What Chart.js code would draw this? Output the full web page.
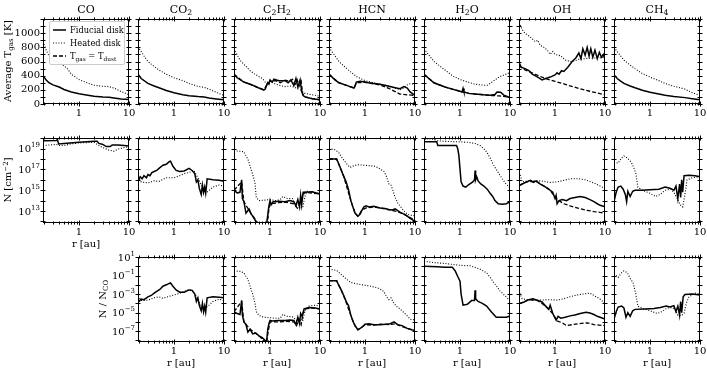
<!DOCTYPE html>
<html>
<head>
<meta charset="utf-8">
<script src="https://cdn.jsdelivr.net/npm/chart.js@4.4.1/dist/chart.umd.min.js"></script>
<style>
body { margin: 0; background: #fff; width: 707px; height: 375px; position: relative; overflow: hidden;
       font-family: "DejaVu Serif", serif; color: #000; }
canvas { position: absolute; }
.txt { position: absolute; font-size: 10px; white-space: nowrap; line-height: 1; transform: translate(-50%, -50%); }
.title { font-size: 11px; }
.rot { transform: translate(-50%, -50%) rotate(-90deg); }
sub { font-size: 70%; vertical-align: -0.3em; line-height: 0; }
sup { font-size: 70%; vertical-align: 0.5em; line-height: 0; }
#legend { position: absolute; left: 49px; top: 21px; width: 74px; height: 42px; border: 1px solid #ccc;
          border-radius: 2px; background: rgba(255,255,255,0.85); font-size: 8.3px; }
#legend .row { position: absolute; left: 3px; height: 10px; display: flex; align-items: center; }
#legend svg { margin-right: 4px; }
</style>
</head>
<body>
<script>
// species (columns) and titles
const species = ['CO', 'CO2', 'C2H2', 'HCN', 'H2O', 'OH', 'CH4'];
const titles = ['CO', 'CO<sub>2</sub>', 'C<sub>2</sub>H<sub>2</sub>', 'HCN', 'H<sub>2</sub>O', 'OH', 'CH<sub>4</sub>'];

// x ticks (r in au)
const rTicks = [0.2, 0.3, 0.4, 0.5, 0.6, 0.7, 0.8, 0.9, 1, 2, 3, 4, 5, 6, 7, 8, 9, 10];
const tTicks = [0, 100, 200, 300, 400, 500, 600, 700, 800, 900, 1000, 1100, 1200];
const nTicks = [12, 13, 14, 15, 16, 17, 18, 19, 20];     // log10 N
const ratioTicks = [-8, -7, -6, -5, -4, -3, -2, -1, 0, 1]; // log10 N/N_CO

// ---- row 1: average T_gas [K], pairs of [r, T]
const tCO_fid = [[0.19,400],[0.22,340],[0.25,300],[0.3,270],[0.4,240],[0.5,205],[0.7,170],[1,145],[1.5,125],[2,110],[3,100],[4,95],[5,85],[7,72],[10,65]];
const tCO_hot = [[0.19,880],[0.22,760],[0.25,680],[0.3,620],[0.4,580],[0.5,540],[0.6,490],[0.7,420],[1,345],[1.5,295],[2,265],[3,250],[4,245],[5,225],[7,175],[10,130]];
const tCO2_fid = [[0.19,420],[0.22,360],[0.3,290],[0.4,255],[0.5,230],[0.7,190],[1,160],[1.5,130],[2,115],[3,105],[4,100],[5,85],[7,72],[10,60]];
const tCO2_hot = [[0.19,810],[0.22,740],[0.25,680],[0.3,600],[0.4,530],[0.5,480],[0.7,420],[1,370],[1.5,330],[2,290],[3,250],[4,235],[5,210],[7,165],[10,120]];
const tC2H2_fid = [[0.19,420],[0.22,370],[0.3,310],[0.4,280],[0.5,250],[0.6,225],[0.75,200],[0.8,210],[0.85,260],[0.9,300],[0.95,280],[1.0,340],[1.1,310],[1.2,350],[1.5,330],[2,330],[2.3,300],[2.6,340],[3,260],[3.3,360],[3.6,240],[4,340],[4.3,180],[4.6,120],[5,100],[7,75],[10,60]];
const tC2H2_hot = [[0.19,780],[0.25,620],[0.3,560],[0.4,470],[0.5,420],[0.7,360],[0.8,310],[0.9,270],[1,320],[1.2,290],[1.5,265],[2,245],[2.5,255],[3,240],[4,200],[4.5,175],[5,150],[7,130],[10,110]];
const tC2H2_dust = [[0.19,420],[0.3,310],[0.5,250],[0.75,200],[0.9,290],[1.0,320],[1.3,330],[1.6,300],[2,335],[2.5,320],[2.8,350],[3.2,280],[3.5,340],[3.8,250],[4.2,320],[4.5,140],[5,100],[7,75],[10,60]];
const tHCN_fid = [[0.19,420],[0.25,340],[0.3,300],[0.4,270],[0.5,245],[0.6,225],[0.63,250],[0.67,310],[0.8,320],[1,310],[1.2,300],[1.5,290],[2,280],[3,250],[4,230],[5,215],[6,245],[7,225],[8,170],[10,120]];
const tHCN_hot = [[0.19,800],[0.25,680],[0.3,600],[0.4,520],[0.5,460],[0.7,380],[1,330],[1.5,300],[2,280],[3,255],[4,225],[5,200],[6,230],[7,270],[8,285],[10,280]];
const tHCN_dust = [[0.19,420],[0.3,300],[0.5,245],[0.6,225],[0.67,300],[1,305],[1.5,285],[2,270],[3,220],[4,175],[5,140],[7,130],[10,120]];
const tH2O_fid = [[0.19,420],[0.3,300],[0.5,240],[0.7,210],[1,180],[1.1,170],[1.15,220],[1.2,170],[1.5,150],[2,140],[3,130],[4,125],[5,135],[5.5,170],[6.5,165],[7.5,125],[10,90]];
const tH2O_hot = [[0.19,780],[0.3,600],[0.5,480],[0.7,400],[1,345],[1.5,305],[2,280],[3,265],[3.5,265],[4,290],[5,340],[6,380],[7,400],[8,415],[10,445]];
const tH2O_dust = [[0.19,420],[0.3,300],[0.5,240],[0.7,210],[1,180],[1.5,150],[2,140],[3,130],[4,120],[6,115],[8,105],[10,90]];
const tOH_fid = [[0.19,590],[0.21,520],[0.25,500],[0.3,470],[0.35,420],[0.45,380],[0.55,340],[0.65,360],[0.8,380],[1,410],[1.1,440],[1.2,420],[1.35,470],[1.5,460],[1.8,520],[2.2,600],[2.6,650],[3,720],[3.3,640],[3.6,780],[4,690],[4.4,800],[4.8,680],[5.2,780],[5.7,660],[6.3,760],[7,640],[7.7,730],[8.5,660],[9.3,700],[10,630]];
const tOH_hot = [[0.19,1150],[0.22,1050],[0.25,1000],[0.3,960],[0.35,920],[0.4,880],[0.45,900],[0.5,830],[0.6,800],[0.7,760],[0.8,700],[0.9,740],[1,700],[1.3,680],[1.6,620],[2,600],[2.5,610],[3,630],[4,640],[5,650],[7,650],[10,660]];
const tOH_dust = [[0.19,540],[0.25,480],[0.3,460],[0.4,420],[0.5,390],[0.7,350],[1,320],[1.5,285],[2,255],[3,220],[5,180],[7,155],[10,130]];
const tCH4_fid = [[0.19,415],[0.22,360],[0.25,330],[0.3,290],[0.4,255],[0.5,230],[0.7,195],[1,165],[1.5,140],[2,122],[3,105],[5,90],[7,75],[10,60]];
const tCH4_hot = [[0.19,800],[0.22,740],[0.25,690],[0.3,620],[0.4,550],[0.5,500],[0.7,430],[1,380],[1.5,330],[2,290],[3,250],[4,230],[5,210],[7,160],[10,120]];

// ---- row 2: column density, pairs of [r, log10 N]
const nCO_fid = [[0.19,19.75],[0.35,19.78],[0.37,19.85],[0.39,19.45],[0.5,19.5],[1,19.6],[2,19.7],[2.3,19.7],[2.5,19.5],[3,19.4],[3.5,19.2],[4.2,19.2],[4.6,19.35],[6,19.35],[8,19.3],[10,19.25]];
const nCO_hot = [[0.19,19.3],[0.35,19.4],[0.4,19.3],[0.5,19.3],[0.7,19.45],[1,19.55],[2,19.6],[2.5,19.3],[3,19.1],[4,18.85],[5,18.75],[6,18.95],[8,19.1],[10,19.2]];
const nCO2_fid = [[0.19,15.9],[0.21,16.3],[0.23,16.1],[0.25,16.4],[0.28,16.2],[0.3,16.5],[0.33,16.4],[0.36,16.7],[0.4,16.8],[0.45,16.9],[0.5,17.1],[0.6,17.4],[0.7,17.5],[0.8,17.75],[0.85,17.8],[0.95,17.3],[1.1,16.9],[1.3,16.8],[1.6,16.85],[2.0,17.1],[2.3,16.9],[2.6,16.6],[2.8,15.8],[3.0,16.0],[3.2,15.2],[3.5,14.6],[3.7,15.5],[3.9,14.8],[4.1,15.3],[4.3,14.7],[4.6,16.1],[6,16.0],[8,15.95],[10,15.85]];
const nCO2_hot = [[0.19,16.3],[0.22,15.8],[0.3,15.7],[0.4,15.9],[0.5,15.85],[0.7,16.2],[1,16.2],[1.3,16.4],[1.6,16.6],[2,16.7],[2.5,16.9],[2.7,16.6],[3,16.2],[3.5,15.5],[4,15.0],[4.3,14.7],[4.8,14.9],[6,15.3],[8,15.5],[10,15.4]];
const nC2H2_fid = [[0.19,15.0],[0.22,14.75],[0.25,14.8],[0.27,16.0],[0.28,14.2],[0.3,13.9],[0.33,12.8],[0.38,13.2],[0.42,12.7],[0.47,12.4],[0.52,12.0],[0.6,11.7],[0.7,11.6],[0.85,11.7],[0.9,12.6],[0.95,13.5],[1.0,14.0],[1.05,13.6],[1.15,13.9],[1.5,13.95],[2,13.9],[2.5,14.0],[3,13.9],[3.3,13.5],[3.6,14.1],[3.9,13.4],[4.1,14.5],[4.3,13.6],[4.6,14.8],[5,14.8],[7,14.85],[10,14.6]];
const nC2H2_hot = [[0.19,18.8],[0.25,18.75],[0.3,18.7],[0.33,18.3],[0.36,18.0],[0.4,17.3],[0.45,16.5],[0.5,15.7],[0.53,14.3],[0.6,14.0],[0.8,14.05],[1.0,14.1],[1.3,14.0],[1.6,14.1],[1.8,14.4],[2.2,14.2],[2.8,14.2],[3.2,13.6],[3.6,13.2],[4.0,13.4],[4.5,13.3],[5.0,14.4],[5.5,14.9],[7,14.85],[10,14.7]];
const nC2H2_dust = [[0.19,15.0],[0.27,15.8],[0.3,13.9],[0.42,12.7],[0.6,11.7],[0.88,11.7],[0.95,13.2],[1.0,13.7],[1.5,13.8],[2,13.85],[3,13.7],[3.5,13.3],[4,13.8],[4.5,14.5],[5,14.8],[10,14.65]];
const nHCN_fid = [[0.19,18.0],[0.27,18.0],[0.3,17.5],[0.33,17.0],[0.37,16.4],[0.42,15.8],[0.47,15.0],[0.52,14.0],[0.57,13.4],[0.63,12.8],[0.72,12.5],[0.8,12.7],[0.87,13.1],[0.95,13.4],[1.05,13.5],[1.2,13.4],[1.5,13.45],[2,13.3],[2.5,13.25],[3,13.15],[3.5,13.1],[4,13.2],[5,12.9],[6,12.7],[7,12.5],[8,12.3],[10,12.0]];
const nHCN_hot = [[0.19,19.0],[0.25,18.9],[0.3,18.6],[0.35,18.1],[0.42,17.6],[0.5,17.2],[0.6,17.35],[0.7,17.45],[1.0,17.4],[1.3,17.35],[1.6,17.3],[2.0,17.05],[2.4,16.8],[2.7,16.3],[3.0,15.6],[3.3,15.5],[3.6,15.0],[4.0,14.3],[4.5,13.8],[5,13.5],[6,13.0],[7,12.7],[8,12.6],[10,12.55]];
const nHCN_dust = [[0.19,18.0],[0.27,18.0],[0.37,16.4],[0.52,14.0],[0.63,12.8],[0.72,12.5],[0.87,13.1],[1.05,13.3],[1.5,13.4],[2.5,13.2],[4,13.0],[6,12.7],[10,12.1]];
const nH2O_fid = [[0.19,19.65],[0.34,19.65],[0.36,19.3],[0.85,19.3],[0.9,19.0],[0.95,18.3],[1.0,17.0],[1.05,15.8],[1.15,15.4],[1.3,15.3],[1.5,15.55],[1.8,15.8],[1.95,16.0],[2.0,16.9],[2.05,16.0],[2.15,16.3],[2.3,15.9],[2.6,15.6],[3.0,15.4],[3.5,15.1],[4.0,14.7],[4.5,14.4],[5.0,14.0],[5.8,13.7],[7,13.65],[8.5,13.7],[10,13.9]];
const nH2O_hot = [[0.19,19.95],[0.3,19.9],[0.35,19.75],[0.5,19.7],[1.0,19.65],[1.5,19.6],[2,19.5],[2.5,19.3],[3,19.0],[3.5,18.6],[4,18.1],[4.5,17.6],[5,17.2],[6,16.6],[7,16.1],[8,15.7],[10,15.2]];
const nOH_fid = [[0.19,15.45],[0.22,15.6],[0.27,15.8],[0.32,15.95],[0.37,15.75],[0.42,15.9],[0.5,15.6],[0.6,15.4],[0.7,15.2],[0.8,15.0],[0.9,14.8],[1.0,14.2],[1.05,14.5],[1.1,13.7],[1.2,14.0],[1.4,14.1],[1.7,14.0],[2.0,14.2],[2.5,14.3],[3.2,14.4],[4,14.3],[5,14.1],[6,13.9],[7,13.7],[8,13.55],[10,13.4]];
const nOH_hot = [[0.19,16.7],[0.2,16.5],[0.22,15.8],[0.3,15.9],[0.5,15.9],[0.8,15.75],[1.1,15.8],[1.5,15.95],[2,16.1],[3,16.1],[4,16.0],[6,15.7],[8,15.4],[10,15.15]];
const nOH_dust = [[0.19,15.45],[0.27,15.8],[0.42,15.85],[0.6,15.4],[0.8,15.0],[1.0,14.3],[1.2,14.0],[1.5,13.7],[2,13.5],[3,13.25],[4,13.1],[6,12.95],[10,12.8]];
const nCH4_fid = [[0.19,13.9],[0.21,14.8],[0.23,15.3],[0.26,15.4],[0.29,15.1],[0.32,14.6],[0.34,13.9],[0.36,14.9],[0.4,14.4],[0.45,14.9],[0.5,15.0],[0.7,15.0],[1.0,15.05],[1.5,15.1],[2,15.3],[2.5,15.2],[3,15.0],[3.3,15.4],[3.6,14.2],[3.9,15.6],[4.1,14.3],[4.3,16.0],[4.5,14.8],[4.8,16.4],[6,16.45],[8,16.4],[10,16.3]];
const nCH4_hot = [[0.19,17.7],[0.23,17.6],[0.27,18.1],[0.3,18.3],[0.35,18.1],[0.42,17.7],[0.47,17.2],[0.52,16.6],[0.57,15.3],[0.7,15.0],[1,14.7],[1.3,14.4],[1.6,14.6],[2,15.0],[2.6,15.1],[3.0,14.8],[3.5,14.2],[4.0,13.6],[4.5,13.4],[5.0,14.6],[5.5,16.0],[7,16.2],[10,16.3]];

// ---- row 3: abundance relative to CO, pairs of [r, log10 N/N_CO]
const rCO2_fid = [[0.19,-3.9],[0.22,-3.55],[0.25,-3.6],[0.3,-3.3],[0.35,-3.15],[0.4,-2.9],[0.45,-2.7],[0.52,-2.5],[0.6,-2.15],[0.7,-2.0],[0.8,-1.85],[0.85,-1.8],[0.95,-2.15],[1.1,-2.55],[1.3,-2.8],[1.6,-2.8],[2.0,-2.55],[2.3,-2.6],[2.6,-3.0],[2.8,-3.8],[3.0,-3.4],[3.2,-4.2],[3.5,-4.8],[3.7,-4.0],[3.9,-4.9],[4.1,-4.3],[4.3,-4.95],[4.6,-3.4],[6,-3.3],[8,-3.35],[10,-3.4]];
const rCO2_hot = [[0.19,-3.2],[0.22,-3.7],[0.3,-3.65],[0.4,-3.4],[0.5,-3.3],[0.6,-3.45],[0.8,-3.25],[1.0,-3.1],[1.4,-2.85],[2,-2.5],[2.5,-2.75],[3.0,-3.6],[3.5,-4.3],[4.0,-4.55],[4.5,-4.4],[5,-4.2],[6,-3.8],[8,-3.55],[10,-3.7]];
const rC2H2_fid = [[0.19,-4.9],[0.22,-5.1],[0.25,-5.2],[0.27,-3.7],[0.28,-5.3],[0.3,-6.0],[0.33,-6.3],[0.36,-7.1],[0.4,-6.8],[0.45,-7.3],[0.52,-7.2],[0.6,-7.5],[0.7,-7.7],[0.8,-8.0],[0.85,-8.2],[0.9,-6.8],[0.95,-6.2],[1.0,-5.85],[1.1,-5.9],[1.5,-5.85],[2,-5.85],[2.5,-5.8],[3,-5.85],[3.3,-6.3],[3.6,-5.5],[3.9,-6.2],[4.1,-5.1],[4.4,-5.4],[4.8,-4.6],[6,-4.45],[8,-4.5],[10,-4.6]];
const rC2H2_hot = [[0.19,-0.5],[0.25,-0.55],[0.3,-0.7],[0.33,-1.1],[0.36,-1.4],[0.4,-2.2],[0.45,-3.0],[0.5,-4.0],[0.53,-4.9],[0.6,-5.3],[0.75,-5.5],[1.0,-5.55],[1.3,-5.6],[1.6,-5.6],[1.8,-5.2],[2.2,-5.4],[2.8,-5.45],[3.2,-5.7],[3.6,-6.0],[4.0,-5.8],[4.5,-5.9],[5.0,-4.8],[6,-4.3],[8,-4.2],[10,-4.3]];
const rC2H2_dust = [[0.19,-4.9],[0.27,-3.8],[0.3,-6.0],[0.4,-6.8],[0.6,-7.5],[0.85,-8.3],[0.92,-7.0],[1.0,-6.0],[1.5,-6.0],[2,-5.95],[3,-6.0],[3.4,-6.4],[3.8,-5.7],[4.2,-6.3],[4.6,-5.0],[5,-4.6],[7,-4.5],[10,-4.6]];
const rHCN_fid = [[0.19,-1.55],[0.27,-1.55],[0.3,-2.1],[0.33,-2.5],[0.37,-3.1],[0.42,-3.8],[0.47,-4.3],[0.52,-5.3],[0.57,-5.9],[0.63,-6.4],[0.72,-6.85],[0.8,-6.7],[0.9,-6.5],[1.0,-6.25],[1.2,-6.2],[1.5,-6.3],[2,-6.3],[2.6,-6.25],[3.2,-6.2],[3.8,-6.0],[4.5,-6.3],[5.5,-6.4],[7,-6.7],[8.5,-6.85],[10,-6.9]];
const rHCN_hot = [[0.19,-0.3],[0.27,-0.45],[0.32,-0.8],[0.37,-1.1],[0.45,-1.5],[0.52,-1.75],[0.7,-1.9],[1.0,-2.05],[1.3,-2.15],[1.7,-2.3],[2.0,-2.45],[2.4,-2.75],[2.7,-3.3],[3.0,-3.6],[3.3,-3.4],[3.7,-3.9],[4.2,-4.3],[5,-4.6],[6,-5.0],[7,-5.35],[8,-5.7],[9,-5.8],[10,-5.7]];
const rHCN_dust = [[0.19,-1.55],[0.27,-1.55],[0.37,-3.1],[0.52,-5.3],[0.63,-6.4],[0.72,-6.85],[0.9,-6.5],[1.0,-6.3],[1.5,-6.35],[2,-6.25],[3,-6.3],[4,-6.2],[5.5,-6.5],[7,-6.7],[10,-6.95]];
const rH2O_fid = [[0.19,0.0],[0.35,-0.05],[0.5,-0.1],[0.7,-0.1],[0.8,-0.5],[0.9,-1.1],[1.0,-1.6],[1.05,-3.0],[1.15,-4.2],[1.4,-4.1],[1.7,-3.7],[1.95,-3.7],[2.0,-2.6],[2.05,-3.5],[2.3,-3.8],[2.8,-4.0],[3.4,-4.3],[4.3,-4.95],[5.3,-5.5],[7,-5.5],[8.5,-5.5],[10,-5.35]];
const rH2O_hot = [[0.19,0.55],[0.3,0.4],[0.5,0.3],[1.0,0.1],[1.6,0.05],[2.5,-0.3],[3.4,-0.7],[4,-1.2],[4.7,-1.75],[5.5,-2.2],[6.3,-2.65],[8,-3.2],[10,-3.7]];
const rOH_fid = [[0.19,-4.05],[0.24,-3.85],[0.3,-3.6],[0.36,-3.5],[0.45,-3.7],[0.55,-3.85],[0.65,-4.3],[0.75,-4.65],[0.8,-4.2],[0.9,-5.1],[1.05,-5.8],[1.15,-5.4],[1.3,-5.6],[1.6,-5.5],[2.0,-5.35],[2.5,-5.25],[3.2,-5.1],[4.2,-4.95],[5,-5.05],[6,-5.2],[7,-5.4],[8.5,-5.55],[10,-5.7]];
const rOH_hot = [[0.19,-2.6],[0.2,-3.0],[0.22,-3.5],[0.3,-3.65],[0.5,-3.65],[0.8,-3.6],[1.1,-3.65],[1.5,-3.5],[2.0,-3.3],[2.5,-3.15],[3.5,-3.0],[5,-2.9],[6,-3.15],[8,-3.55],[10,-4.05]];
const rOH_dust = [[0.19,-4.05],[0.3,-3.6],[0.45,-3.7],[0.65,-4.3],[0.9,-5.1],[1.1,-5.9],[1.4,-6.1],[1.7,-6.4],[2.2,-6.3],[3,-6.2],[4.4,-6.1],[6,-6.3],[10,-6.4]];
const rCH4_fid = [[0.19,-5.7],[0.21,-4.9],[0.23,-4.4],[0.27,-4.3],[0.3,-4.5],[0.33,-5.5],[0.36,-5.0],[0.4,-5.4],[0.45,-4.8],[0.5,-4.65],[0.8,-4.6],[1.2,-4.55],[1.6,-4.45],[2.1,-4.3],[2.5,-4.4],[3.0,-4.25],[3.3,-4.9],[3.6,-4.3],[3.9,-5.3],[4.1,-3.8],[4.3,-5.0],[4.6,-3.3],[5,-3.05],[7,-3.0],[10,-3.1]];
const rCH4_hot = [[0.19,-0.8],[0.23,-1.2],[0.27,-0.7],[0.3,-0.5],[0.35,-0.7],[0.4,-1.3],[0.46,-1.8],[0.52,-3.0],[0.57,-4.3],[0.7,-4.55],[1.0,-4.8],[1.4,-5.1],[1.7,-4.9],[2.2,-4.5],[2.8,-4.45],[3.2,-4.7],[3.6,-5.3],[4.3,-5.3],[4.8,-5.1],[5.3,-4.0],[6,-3.3],[8,-2.9],[10,-3.0]];

// panels: [fiducial, heated, Tgas=Tdust] per species
const tempRow = [[tCO_fid,tCO_hot,null],[tCO2_fid,tCO2_hot,null],[tC2H2_fid,tC2H2_hot,tC2H2_dust],[tHCN_fid,tHCN_hot,tHCN_dust],[tH2O_fid,tH2O_hot,tH2O_dust],[tOH_fid,tOH_hot,tOH_dust],[tCH4_fid,tCH4_hot,null]];
const colRow = [[nCO_fid,nCO_hot,null],[nCO2_fid,nCO2_hot,null],[nC2H2_fid,nC2H2_hot,nC2H2_dust],[nHCN_fid,nHCN_hot,nHCN_dust],[nH2O_fid,nH2O_hot,null],[nOH_fid,nOH_hot,nOH_dust],[nCH4_fid,nCH4_hot,null]];
const ratioRow = [null,[rCO2_fid,rCO2_hot,null],[rC2H2_fid,rC2H2_hot,rC2H2_dust],[rHCN_fid,rHCN_hot,rHCN_dust],[rH2O_fid,rH2O_hot,null],[rOH_fid,rOH_hot,rOH_dust],[rCH4_fid,rCH4_hot,null]];

// layout
const colLeft = [43, 138, 234, 329, 424, 519, 614];
const rowTop = [18, 137, 256];
const SIZE = 86, PADL = 42, PADT = 8, PADR = 12, PADB = 18;

const lineStyles = [
    {borderWidth: 1.5, borderDash: []},
    {borderWidth: 1.1, borderDash: [1, 1.7]},
    {borderWidth: 1.3, borderDash: [4, 2]}
];

// frame, ticks on all four sides, and 10^n labels with a raised exponent
const frame = {
    id: 'frame',
    afterDraw(chart, args, opts) {
        const {ctx, chartArea: a, scales} = chart;
        const xs = scales.x, ys = scales.y;
        ctx.save();
        ctx.strokeStyle = '#000';
        ctx.lineWidth = 1;
        ctx.beginPath();
        xs.ticks.forEach(t => {
            const px = Math.round(xs.getPixelForValue(t.value)) + 0.5;
            const len = (t.value === 1 || t.value === 10) ? 2.5 : 1.5;
            ctx.moveTo(px, a.bottom - len); ctx.lineTo(px, a.bottom + len);
            ctx.moveTo(px, a.top - len); ctx.lineTo(px, a.top + len);
        });
        ys.ticks.forEach(t => {
            const py = Math.round(ys.getPixelForValue(t.value)) + 0.5;
            ctx.moveTo(a.left - 2.5, py); ctx.lineTo(a.left + 2.5, py);
            ctx.moveTo(a.right - 2.5, py); ctx.lineTo(a.right + 2.5, py);
        });
        ctx.stroke();
        ctx.strokeRect(a.left + 0.5, a.top + 0.5, a.width - 1, a.height - 1);

        if (opts.logLabels) {
            ctx.fillStyle = '#000';
            ctx.textBaseline = 'middle';
            ctx.textAlign = 'left';
            ys.ticks.forEach(t => {
                const e = Math.round(Math.log10(t.value));
                if (Math.abs(e % 2) !== 1) return;
                const py = ys.getPixelForValue(t.value);
                const expo = String(e).replace('-', '\u2212');
                ctx.font = '7px "DejaVu Serif"';
                const we = ctx.measureText(expo).width;
                ctx.font = '10px "DejaVu Serif"';
                const wb = ctx.measureText('10').width;
                const x0 = a.left - 3 - we - wb;
                ctx.fillText('10', x0, py + 1);
                ctx.font = '7px "DejaVu Serif"';
                ctx.fillText(expo, x0 + wb, py - 3);
            });
        }
        ctx.restore();
    }
};

function yScale(kind, showLabels) {
    const font = {family: 'DejaVu Serif', size: 10};
    const base = {
        grid: {display: false, drawTicks: false},
        border: {display: false},
        afterFit: s => { s.width = PADL; }
    };
    if (kind === 'T') {
        return Object.assign(base, {
            type: 'linear', min: 0, max: 1200,
            afterBuildTicks: s => { s.ticks = tTicks.map(v => ({value: v})); },
            ticks: {color: '#000', font, padding: 3, autoSkip: false,
                callback: v => (showLabels && v % 200 === 0 && v <= 1000) ? String(v) : ''}
        });
    }
    const dec = kind === 'N' ? nTicks : ratioTicks;
    return Object.assign(base, {
        type: 'logarithmic',
        min: kind === 'N' ? Math.pow(10, 11.85) : Math.pow(10, -8.17),
        max: kind === 'N' ? Math.pow(10, 20.02) : 10,
        afterBuildTicks: s => { s.ticks = dec.map(e => ({value: Math.pow(10, e)})); },
        ticks: {color: '#000', font, padding: 3, autoSkip: false, callback: () => ''}
    });
}

function makePanel(col, row, series, kind, showY) {
    const cv = document.createElement('canvas');
    const w = PADL + SIZE + PADR, h = PADT + SIZE + PADB;
    cv.width = w; cv.height = h;
    cv.style.left = (colLeft[col] - PADL) + 'px';
    cv.style.top = (rowTop[row] - PADT) + 'px';
    document.body.appendChild(cv);

    const datasets = [];
    [0, 2, 1].forEach(k => {
        const pts = series[k];
        if (!pts) return;
        datasets.push(Object.assign({
            data: pts.map(([r, v]) => ({x: r, y: kind === 'T' ? v : Math.pow(10, v)})),
            borderColor: '#000',
            pointRadius: 0,
            tension: 0,
            fill: false
        }, lineStyles[k]));
    });

    new Chart(cv, {
        type: 'line',
        data: {datasets},
        options: {
            responsive: false,
            animation: false,
            devicePixelRatio: 1,
            layout: {padding: {left: 0, top: PADT, right: PADR, bottom: 0}},
            plugins: {
                legend: {display: false},
                tooltip: {enabled: false},
                frame: {logLabels: kind !== 'T' && showY}
            },
            scales: {
                x: {
                    type: 'logarithmic', min: 0.19, max: 10,
                    grid: {display: false, drawTicks: false},
                    border: {display: false},
                    afterBuildTicks: s => { s.ticks = rTicks.map(v => ({value: v})); },
                    afterFit: s => { s.height = PADB; },
                    ticks: {color: '#000', font: {family: 'DejaVu Serif', size: 10}, padding: 3,
                        autoSkip: false, maxRotation: 0, minRotation: 0,
                        callback: v => (v === 1 ? '1' : v === 10 ? '10' : '')}
                },
                y: yScale(kind, showY)
            }
        },
        plugins: [frame]
    });
}

species.forEach((name, i) => {
    makePanel(i, 0, tempRow[i], 'T', i === 0);
    makePanel(i, 1, colRow[i], 'N', i === 0);
    if (ratioRow[i]) makePanel(i, 2, ratioRow[i], 'R', i === 1);
});

function addText(html, x, y, cls) {
    const d = document.createElement('div');
    d.className = 'txt' + (cls ? ' ' + cls : '');
    d.style.left = x + 'px';
    d.style.top = y + 'px';
    d.innerHTML = html;
    document.body.appendChild(d);
}

titles.forEach((t, i) => addText(t, colLeft[i] + SIZE / 2, 9, 'title'));
addText('Average T<sub>gas</sub> [K]', 8, rowTop[0] + SIZE / 2, 'rot');
addText('N [cm<sup>−2</sup>]', 8, rowTop[1] + SIZE / 2, 'rot');
addText('N / N<sub>CO</sub>', 103, rowTop[2] + SIZE / 2, 'rot');
addText('r [au]', colLeft[0] + SIZE / 2, 244);
for (let i = 1; i < 7; i++) addText('r [au]', colLeft[i] + SIZE / 2, 363);

// legend
const lg = document.createElement('div');
lg.id = 'legend';
const legendItems = [
    ['Fiducial disk', '', 1.5],
    ['Heated disk', '1,1.7', 1.1],
    ['T<sub>gas</sub> = T<sub>dust</sub>', '4,2', 1.3]
];
legendItems.forEach(([label, dash, lw], k) => {
    const row = document.createElement('div');
    row.className = 'row';
    row.style.top = (3 + k * 13) + 'px';
    row.innerHTML = '<svg width="13" height="4"><line x1="0" y1="2" x2="13" y2="2" stroke="#000" stroke-width="' + lw + '"' +
        (dash ? ' stroke-dasharray="' + dash + '"' : '') + '/></svg><span>' + label + '</span>';
    lg.appendChild(row);
});
document.body.appendChild(lg);
</script>
</body>
</html>
